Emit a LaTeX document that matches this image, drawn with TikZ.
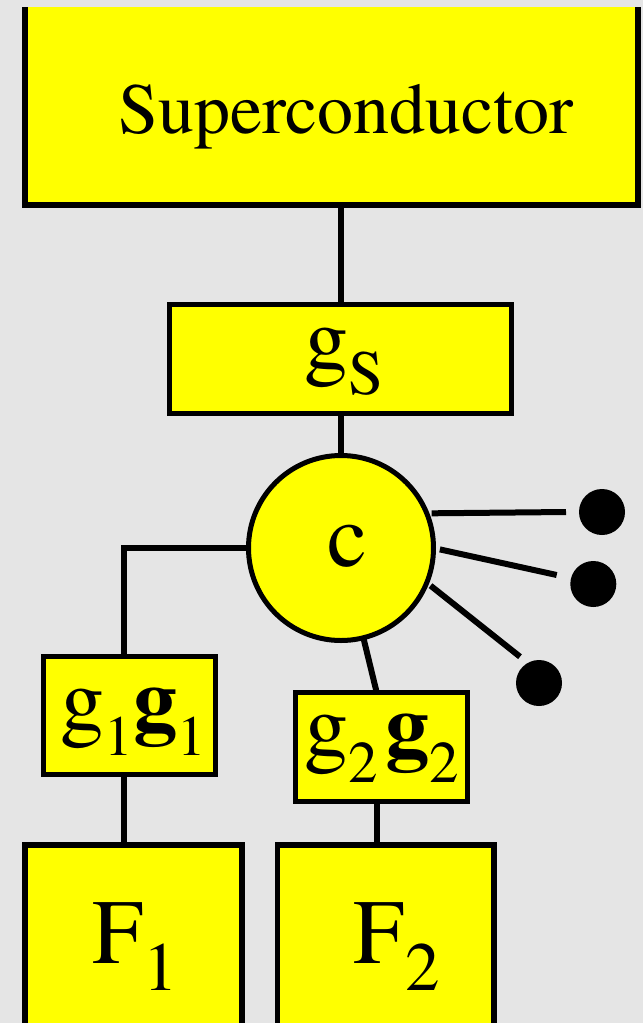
\documentclass[tikz,border=0pt]{standalone}
\usepackage{fontspec}
\setmainfont{texgyretermes}[Extension=.otf,UprightFont=*-regular,BoldFont=*-bold,ItalicFont=*-italic,BoldItalicFont=*-bolditalic]
\definecolor{bg}{HTML}{E5E5E5}
\definecolor{yel}{HTML}{FFFF00}
\newcommand{\fs}[1]{\fontsize{#1}{#1}\selectfont}
\newcommand{\lowsub}[3]{\raisebox{-#1pt}{\fs{#2}#3}}
\begin{document}
\begin{tikzpicture}[x=1pt,y=-1pt,
  box/.style={draw=black,fill=yel,line width=5pt,inner sep=0pt,outer sep=0pt,rectangle},
  conn/.style={line width=6pt},
  dot/.style={circle,fill=black,inner sep=0pt,outer sep=0pt,minimum size=46pt},
  txt/.style={anchor=base west,inner sep=0pt,outer sep=0pt,text=black}]
\fill[bg] (0,0) rectangle (643,1023);
\useasboundingbox (0,0) rectangle (643,1023);
% Superconductor (top edge cut off)
\node[box,draw=none,minimum width=613.3pt,minimum height=198.3pt] (sc) at (331.65,106.15) {};
\draw[line width=6pt] (sc.north west) |- (sc.south east) -- (sc.north east);
\node[txt] (scT) at (118,133) {\fs{72}Superconductor};
% g_S
\node[box,minimum width=342.5pt,minimum height=109pt] (gs) at (340.25,359) {};
\node[txt] (gsT) at (304.2,368.8) {\fs{88}g\lowsub{26}{63}{S}};
% c
\node[circle,draw=black,fill=yel,line width=5pt,inner sep=0pt,outer sep=0pt,minimum size=185pt] (c) at (341,548) {};
\node[txt] (cT) at (327.75,566) {\fs{90}c};
% g1 g1
\node[box,minimum width=172pt,minimum height=118pt] (g1) at (129,715) {};
\node[txt] (g1T) at (60.8,729.1) {\fs{88}g\lowsub{26}{57}{1}\textbf{g}\lowsub{26}{57}{1}};
% g2 g2
\node[box,minimum width=172.5pt,minimum height=108.5pt] (g2) at (381.25,746.75) {};
\node[txt] (g2T) at (304.2,755.8) {\fs{88}g\lowsub{27}{59}{2}\kern8pt\textbf{g}\lowsub{27}{59}{2}};
% F1, F2 (bottom edges cut off)
\node[box,line width=5.5pt,minimum width=217pt,minimum height=205pt] (F1) at (133.5,947.5) {};
\node[txt] (F1T) at (92.2,963) {\fs{92}F\lowsub{27}{69}{1}};
\node[box,line width=5.5pt,minimum width=216.5pt,minimum height=205pt] (F2) at (385.75,947.5) {};
\node[txt] (F2T) at (353.9,963) {\fs{92}F\lowsub{27}{69}{2}};
% dots
\node[dot] (d1) at (602,512) {};
\node[dot] (d2) at (593.3,584) {};
\node[dot] (d3) at (539,683) {};
\coordinate (e1) at (566,512);
\coordinate (e2) at (556.7,575);
\coordinate (e3) at (520,656.7);
\coordinate (xl) at (124,0);
\coordinate (xr) at (376.7,0);
% connectors
\draw[conn] (c.north |- sc.south) -- (c.north |- gs.north);
\draw[conn] (c.north |- gs.south) -- (c.north);
\draw[conn] (c.west) -| (g1.north -| xl);
\draw[conn] (g1.south -| xl) -- (F1.north -| xl);
\draw[conn] (c.-76.5) -- (g2.north -| xr);
\draw[conn] (g2.south -| xr) -- (F2.north -| xr);
\draw[conn,shorten <=4.8pt] (c.22.9) -- (e1);
\draw[conn,shorten <=6.5pt] (c.east) -- (e2);
\draw[conn,shorten <=4.8pt] (c.-22.3) -- (e3);
\end{tikzpicture}
\end{document}
